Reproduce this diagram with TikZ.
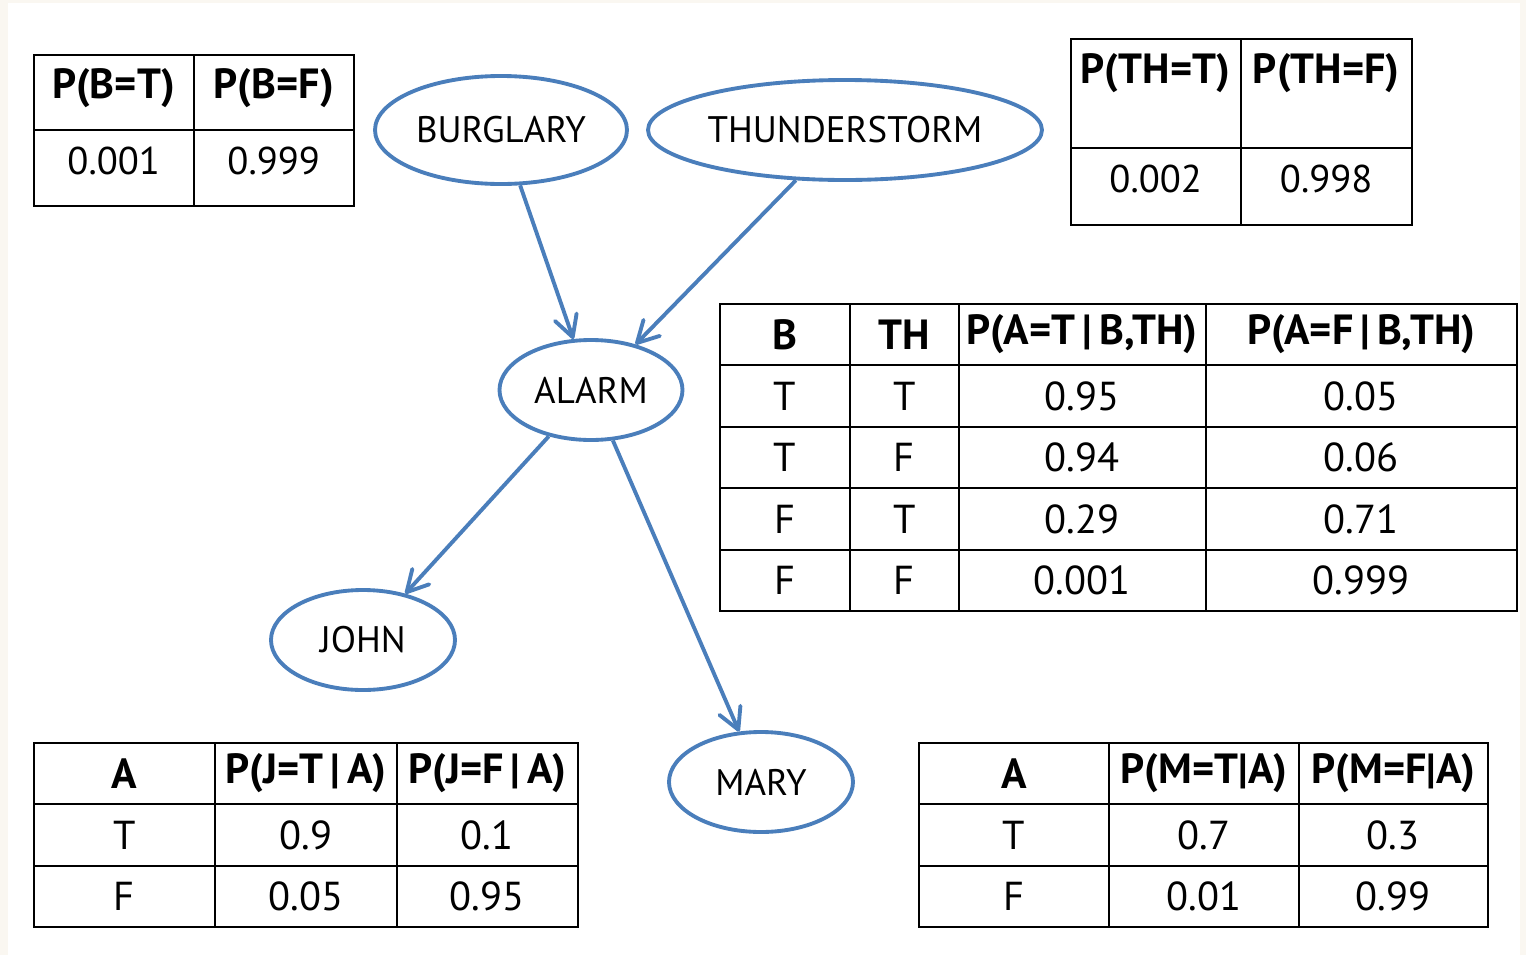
\documentclass[tikz,border=0pt]{standalone}
\usepackage{fontspec}
\setmainfont{PT Sans}
\usetikzlibrary{arrows.meta,matrix,positioning,shapes.geometric}
\definecolor{netblue}{RGB}{74,126,187}
\definecolor{paper}{RGB}{250,247,241}
\tikzset{
    bnet/.style={->,>={Straight Barb[length=6pt,width=6.5pt,round]},draw=netblue,
                 line width=1.1pt},
    event/.style={ellipse,draw=netblue,line width=1.1pt,inner sep=0pt,
                  minimum height=1cm,font=\fontsize{10.5}{13}\selectfont},
    cpt/.style={matrix of nodes,anchor=north west,inner sep=0pt,
                column sep=-0.6pt,row sep=-0.6pt,
                nodes={draw,line width=0.6pt,inner sep=0pt,anchor=center,
                       font=#1},
                row 1/.style={nodes={font=\fontsize{12}{14}\selectfont\bfseries}}},
    raised/.style={nodes={text height=0.7em,text depth=0.35em}},
}

\begin{document}
\begin{tikzpicture}
    % page
    \fill[paper] (0,0) rectangle (15.26,-9.55);
    \fill[white] (0.08,-0.03) rectangle (15.20,-9.55);

    % network
    \node[event, minimum width=2.52cm, minimum height=1.08cm] (burglary) at (5.01,-1.30) {BURGLARY};
    \node[event, minimum width=3.94cm] (thunder) at (8.45,-1.30) {THUNDERSTORM};
    \node[event, minimum width=1.83cm] (alarm) at (5.91,-3.90) {ALARM};
    \node[event, minimum width=1.84cm] (john) at (3.63,-6.40) {JOHN};
    \node[event, minimum width=1.84cm] (mary) at (7.61,-7.82) {MARY};

    \path[bnet] (burglary) edge[] (alarm);
    \path[bnet] (thunder) edge[] (alarm);
    \path[bnet] (alarm) edge[] (john);
    \path[bnet] (alarm) edge[] (mary);

    % probability tables
    \matrix (pb) [cpt=\fontsize{11}{13}\selectfont, raised,
        nodes={minimum height=0.755cm},
        column 1/.style={nodes={minimum width=1.6cm}},
        column 2/.style={nodes={minimum width=1.6cm}}]
        at (0.32,-0.53) {
        P(B=T) & P(B=F) \\
        0.001  & 0.999  \\
    };

    \matrix (pth) [cpt=\fontsize{11}{13}\selectfont, raised,
        nodes={minimum height=0.77cm},
        column 1/.style={nodes={minimum width=1.70cm}},
        column 2/.style={nodes={minimum width=1.71cm}},
        row 1/.append style={nodes={minimum height=1.09cm,
            text height=0.7em,text depth=0.44cm}}]
        at (10.69,-0.37) {
        P(TH=T) & P(TH=F) \\
        0.002   & 0.998   \\
    };

    \matrix (pa) [cpt=\fontsize{11.5}{13}\selectfont,
        nodes={minimum height=0.615cm},
        column 1/.style={nodes={minimum width=1.30cm}},
        column 2/.style={nodes={minimum width=1.09cm}},
        column 3/.style={nodes={minimum width=2.47cm}},
        column 4/.style={nodes={minimum width=3.11cm}}]
        at (7.18,-3.02) {
        B & TH & P(A=T\,|\,B,TH) & P(A=F\,|\,B,TH) \\
        T & T  & 0.95  & 0.05  \\
        T & F  & 0.94  & 0.06  \\
        F & T  & 0.29  & 0.71  \\
        F & F  & 0.001 & 0.999 \\
    };

    \matrix (pj) [cpt=\fontsize{11.5}{13}\selectfont,
        nodes={minimum height=0.615cm},
        column 1/.style={nodes={minimum width=1.81cm}},
        column 2/.style={nodes={minimum width=1.82cm}},
        column 3/.style={nodes={minimum width=1.81cm}}]
        at (0.32,-7.41) {
        A & P(J=T\,|\,A) & P(J=F\,|\,A) \\
        T & 0.9  & 0.1  \\
        F & 0.05 & 0.95 \\
    };

    \matrix (pm) [cpt=\fontsize{11.5}{13}\selectfont,
        nodes={minimum height=0.615cm},
        column 1/.style={nodes={minimum width=1.90cm}},
        column 2/.style={nodes={minimum width=1.90cm}},
        column 3/.style={nodes={minimum width=1.89cm}}]
        at (9.17,-7.41) {
        A & P(M=T|A) & P(M=F|A) \\
        T & 0.7  & 0.3  \\
        F & 0.01 & 0.99 \\
    };
\end{tikzpicture}
\end{document}
